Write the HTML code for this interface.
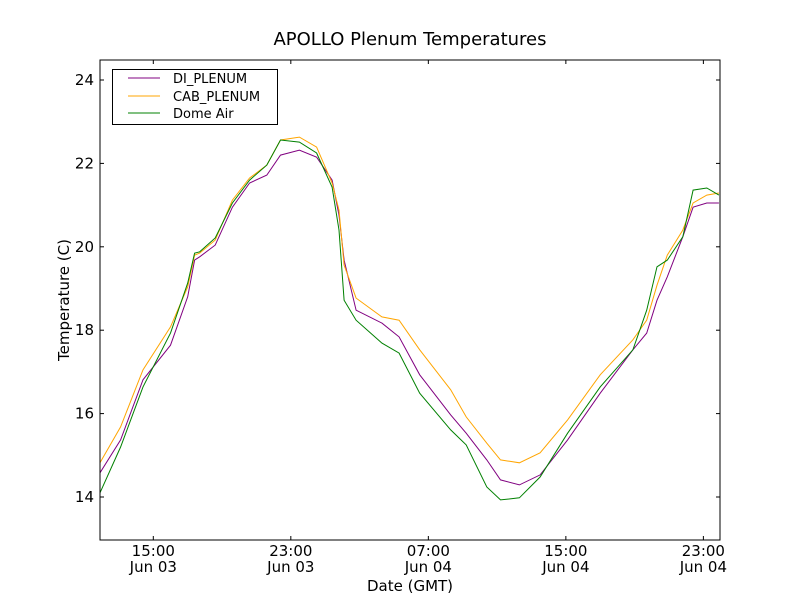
<!DOCTYPE html>
<html><head><meta charset="utf-8"><style>
body{margin:0;background:#fff;}
svg text{font-family:"DejaVu Sans","Liberation Sans",sans-serif;fill:#000;}
</style></head><body>
<svg id="chart" width="800" height="600" viewBox="0 0 800 600">
<rect x="0" y="0" width="800" height="600" fill="#fff"/>
<text x="410" y="45" font-size="18" text-anchor="middle">APOLLO Plenum Temperatures</text>
<text x="410" y="591" font-size="15" text-anchor="middle">Date (GMT)</text>
<text transform="translate(69,300) rotate(-90)" font-size="15" text-anchor="middle">Temperature (C)</text>
<g id="ticks"></g>
<g id="series"></g>
<rect x="100" y="60" width="620" height="480" fill="none" stroke="#000" stroke-width="1"/>
<g>
<rect x="112.5" y="69.5" width="165" height="55" fill="#fff" stroke="#000"/>
<line x1="128" y1="78" x2="160" y2="78" stroke="#800080"/>
<text x="173" y="83" font-size="13">DI_PLENUM</text>
<line x1="128" y1="96" x2="160" y2="96" stroke="#ffa500"/>
<text x="173" y="101" font-size="13">CAB_PLENUM</text>
<line x1="128" y1="113" x2="160" y2="113" stroke="#008000"/>
<text x="173" y="118" font-size="13">Dome Air</text>
</g>
</svg>
<script>
const hours=[11.9,13.1,14.4,16.0,17.0,17.4,17.7,18.6,19.6,20.6,21.6,22.4,23.5,24.5,25.4,25.8,26.1,26.8,28.3,29.3,30.5,32.3,33.2,34.4,35.2,36.3,37.5,39.1,41.0,42.9,43.7,44.3,44.9,45.8,46.4,47.2,47.9];
const diPlenum=[14.58,15.37,16.81,17.64,18.80,19.68,19.76,20.04,20.95,21.53,21.72,22.20,22.32,22.15,21.6,20.76,19.68,18.48,18.17,17.84,16.93,15.97,15.53,14.89,14.41,14.29,14.53,15.37,16.49,17.53,17.93,18.72,19.28,20.24,20.95,21.05,21.05];
const cabPlenum=[14.82,15.68,17.05,18.08,19.04,19.80,19.85,20.16,21.12,21.65,21.96,22.56,22.63,22.39,21.53,20.88,19.56,18.77,18.32,18.24,17.53,16.57,15.92,15.29,14.89,14.82,15.06,15.85,16.93,17.77,18.24,19.08,19.80,20.40,21.05,21.24,21.29];
const domeAir=[14.10,15.2,16.64,17.93,19.13,19.85,19.88,20.21,21.05,21.60,21.96,22.56,22.51,22.25,21.43,20.40,18.72,18.24,17.69,17.45,16.49,15.61,15.25,14.24,13.93,13.98,14.48,15.53,16.64,17.53,18.48,19.52,19.68,20.24,21.36,21.41,21.24];
const yTicks=[14,16,18,20,22,24];
const xTickHours=[15,23,31,39,47];
const xTickTimes=["15:00","23:00","07:00","15:00","23:00"];
const xTickDates=["Jun 03","Jun 03","Jun 04","Jun 04","Jun 04"];
const NS="http://www.w3.org/2000/svg";
function xs(h){return 153.3+(h-15)*17.19;}
function ys(t){return 80+(24-t)*41.7;}
const tg=document.getElementById('ticks');
function mk(tag,attrs,parent){const e=document.createElementNS(NS,tag);for(const k in attrs)e.setAttribute(k,attrs[k]);parent.appendChild(e);return e;}
yTicks.forEach(t=>{const y=ys(t);
 const a=mk('line',{x1:100,x2:104,y1:y,y2:y,stroke:'#000'},tg);
 
 
 const b=mk('line',{x1:716,x2:720,y1:y,y2:y,stroke:'#000'},tg);
 
 
 const l=mk('text',{x:94,y:y+5,'font-size':15,'text-anchor':'end'},tg);l.textContent=t;
 
 
});
xTickHours.forEach((h,i)=>{const x=xs(h);
 const a=mk('line',{x1:x,x2:x,y1:536,y2:540,stroke:'#000'},tg);
 
 
 const b=mk('line',{x1:x,x2:x,y1:60,y2:64,stroke:'#000'},tg);
 
 
 const l1=mk('text',{x:x,y:556,'font-size':15,'text-anchor':'middle'},tg);l1.textContent=xTickTimes[i];
 
 
 const l2=mk('text',{x:x,y:572,'font-size':15,'text-anchor':'middle'},tg);l2.textContent=xTickDates[i];
 
 
});
const sg=document.getElementById('series');
function line(vals,color,name){
 const d=vals.map((v,i)=>(i?'L':'M')+xs(hours[i]).toFixed(1)+','+ys(v).toFixed(1)).join(' ');
 const p=mk('path',{d:d,fill:'none',stroke:color,'stroke-width':1},sg);
 
 
}
line(diPlenum,'#800080','di-plenum-line');
line(cabPlenum,'#ffa500','cab-plenum-line');
line(domeAir,'#008000','dome-air-line');
</script>
</body></html>
